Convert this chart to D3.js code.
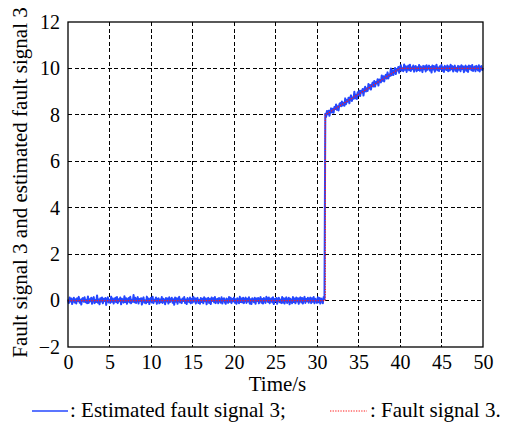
<!DOCTYPE html>
<html>
<head>
<meta charset="utf-8">
<script src="https://cdn.jsdelivr.net/npm/d3@7/dist/d3.min.js"></script>
</head>
<body style="margin:0">
<svg id="chart" width="506" height="424"></svg>
<script>
// Axis ranges and ticks
const xDomain = [0, 50];
const yDomain = [-2, 12];
const xTicks = [0, 5, 10, 15, 20, 25, 30, 35, 40, 45, 50];
const yTicks = [-2, 0, 2, 4, 6, 8, 10, 12];

// Fault signal 3 (piecewise: off, step at 31 s, ramp to 40 s, hold)
const faultTime = [0, 31, 31, 40, 50];
const faultValue = [0, 0, 8, 10, 10];

// Estimated fault signal 3, sampled every 0.1 s from 0 to 50 s
const sampleStep = 0.1;
const estimated = [
  .05,-.11,.13,-.04,.09,-.15,.02,.12,-.08,.06,
  -.13,.1,-.02,.16,-.09,.04,-.17,.08,.11,-.05,
  .14,-.07,.03,-.12,.18,-.1,.06,-.03,.12,-.14,
  .07,.15,-.11,.02,-.06,.22,-.09,.05,-.16,.1,
  -.04,.13,-.12,.08,-.02,.11,-.19,.06,.14,-.08,
  .03,-.1,.17,-.05,.09,-.13,.04,.12,-.07,.15,
  -.11,.06,-.03,.13,-.16,.08,.02,-.09,.19,-.06,
  .1,-.14,.05,.11,-.08,.16,-.12,.03,-.05,.24,
  -.07,.12,-.1,.04,.15,-.13,.07,-.02,.1,-.17,
  .06,.14,-.09,.01,-.12,.17,-.06,.09,-.15,.05,
  .12,-.08,.16,-.11,.04,-.03,.13,-.14,.07,.1,
  -.12,.05,-.07,.15,-.1,.08,.02,-.16,.11,-.04,
  .09,-.13,.14,-.06,.03,.12,-.09,.06,-.18,.13,
  -.05,.1,-.14,.07,.16,-.08,.04,-.11,.09,-.02,
  .15,-.1,.05,-.15,.11,.02,-.07,.13,-.12,.08,
  -.09,.16,-.04,.1,-.13,.06,.12,-.1,.03,-.14,
  .11,-.06,.08,-.12,.14,-.03,.09,-.16,.05,.12,
  -.1,.07,-.15,.13,-.02,.1,-.08,.15,-.11,.04,
  .08,-.12,.11,.02,-.09,.14,-.13,.06,.1,-.07,
  -.14,.09,.04,-.1,.15,-.05,.12,-.11,.07,-.03,
  .13,-.09,.06,-.14,.1,.03,-.12,.16,-.06,.09,
  -.08,.12,-.11,.05,.13,-.1,.08,-.04,.14,-.13,
  .06,-.15,.1,.03,-.07,.12,-.14,.09,-.02,.11,
  -.12,.04,.15,-.09,.07,-.13,.11,.02,-.1,.16,
  .09,-.06,.13,-.12,.05,.1,-.08,.14,-.15,.07,
  -.03,.11,-.14,.08,.12,-.07,.04,-.11,.15,-.09,
  .1,-.13,.06,.14,-.1,.03,.12,-.16,.08,-.05,
  -.11,.15,-.06,.09,-.12,.13,-.04,.1,-.14,.07,
  .14,-.08,.11,-.13,.05,.16,-.1,.07,-.03,.12,
  -.09,.06,.13,-.11,.1,-.05,.15,-.12,.08,.03,
  -.1,.14,-.07,.11,-.13,.09,.04,-.12,.15,.06,
  8.05,7.91,8.17,8.03,8.18,7.96,8.15,8.28,8.10,8.26,
  8.09,8.34,8.25,8.45,8.22,8.37,8.19,8.46,8.51,8.37,
  8.58,8.40,8.52,8.39,8.71,8.46,8.64,8.57,8.74,8.50,
  8.74,8.84,8.60,8.75,8.70,9.00,8.71,8.87,8.68,8.97,
  8.85,9.04,8.81,9.04,8.96,9.11,8.83,9.10,9.21,9.01,
  9.14,9.03,9.33,9.13,9.29,9.09,9.28,9.39,9.22,9.46,
  9.22,9.42,9.35,9.53,9.26,9.52,9.49,9.40,9.70,9.47,
  9.66,9.44,9.65,9.73,9.56,9.83,9.57,9.74,9.68,10.00,
  9.71,9.92,9.72,9.88,10.02,9.76,9.98,9.91,10.06,9.81,
  10.06,10.14,9.91,10.01,9.88,10.17,9.94,10.09,9.85,10.05,
  10.12,9.92,10.16,9.89,10.04,9.97,10.13,9.86,10.07,10.10,
  9.88,10.05,9.93,10.15,9.90,10.08,10.02,9.84,10.11,9.96,
  10.09,9.87,10.14,9.94,10.03,10.12,9.91,10.06,9.82,10.13,
  9.95,10.10,9.86,10.07,10.16,9.92,10.04,9.89,10.09,9.98,
  10.15,9.90,10.05,9.85,10.11,10.02,9.93,10.13,9.88,10.08,
  9.91,10.16,9.96,10.10,9.87,10.06,10.12,9.90,10.03,9.86,
  10.11,9.94,10.08,9.88,10.14,9.97,10.09,9.84,10.05,10.12,
  9.90,10.07,9.85,10.13,9.98,10.10,9.92,10.15,9.89,10.04,
  10.08,9.88,10.11,10.02,9.91,10.14,9.87,10.06,10.10,9.93,
  10.02
];

// Text
const xTitle = "Time/s";
const yTitle = "Fault signal 3 and estimated fault signal 3";
const legendEstimated = ": Estimated fault signal 3;";
const legendFault = ": Fault signal 3.";

const blue = "#2447ff";
const red = "#ff1a1a";
const serif = "Liberation Serif";

const svg = d3.select("#chart");
const plot = { left: 68, right: 483, top: 22, bottom: 347 };

const x = d3.scaleLinear().domain(xDomain).range([plot.left, plot.right]);
const y = d3.scaleLinear().domain(yDomain).range([plot.bottom, plot.top]);

// Dashed grid
const grid = svg.append("g");
grid.selectAll("line.vx")
  .data(xTicks.slice(1, -1))
  .join("line")
  .attr("x1", d => x(d)).attr("x2", d => x(d))
  .attr("y1", plot.top).attr("y2", plot.bottom)
  .attr("stroke", "#000").attr("stroke-width", 1)
  .attr("stroke-dasharray", "4,2.6")
  .attr("shape-rendering", "crispEdges");
grid.selectAll("line.hy")
  .data(yTicks.slice(1, -1))
  .join("line")
  .attr("x1", plot.left).attr("x2", plot.right)
  .attr("y1", d => y(d)).attr("y2", d => y(d))
  .attr("stroke", "#000").attr("stroke-width", 1)
  .attr("stroke-dasharray", "4,2.6")
  .attr("shape-rendering", "crispEdges");

// Series
const estPoints = estimated.map((v, i) => [i * sampleStep, v]);
const line = d3.line().x(d => x(d[0])).y(d => y(d[1]));

svg.append("path")
  .datum(estPoints)
  .attr("d", line)
  .attr("fill", "none")
  .attr("stroke", blue)
  .attr("stroke-width", 2)
  .attr("stroke-linejoin", "round");

const faultPoints = faultTime.map((t, i) => [t, faultValue[i]]);
svg.append("path")
  .datum(faultPoints)
  .attr("d", line)
  .attr("fill", "none")
  .attr("stroke", red)
  .attr("stroke-width", 1.2)
  .attr("stroke-dasharray", "1.3,1.3");

// Axes (labels only; the frame is drawn as a box)
const xAxis = d3.axisBottom(x).tickValues(xTicks).tickSize(0).tickPadding(8).tickFormat(d3.format("d"));
const yAxis = d3.axisLeft(y).tickValues(yTicks).tickSize(0).tickPadding(8)
  .tickFormat(d => d < 0 ? "\u2212" + Math.abs(d) : String(d));

const gx = svg.append("g").attr("transform", `translate(0,${plot.bottom})`).call(xAxis);
const gy = svg.append("g").attr("transform", `translate(${plot.left},0)`).call(yAxis);
[gx, gy].forEach(g => {
  g.attr("font-family", serif).attr("font-size", 20);
  g.select(".domain").remove();
});

svg.append("rect")
  .attr("x", plot.left).attr("y", plot.top)
  .attr("width", plot.right - plot.left).attr("height", plot.bottom - plot.top)
  .attr("fill", "none").attr("stroke", "#000").attr("stroke-width", 1.3);

// Axis titles
svg.append("text")
  .attr("x", (plot.left + plot.right) / 2 + 2).attr("y", 391)
  .attr("text-anchor", "middle").attr("font-family", serif).attr("font-size", 21)
  .text(xTitle);

svg.append("text")
  .attr("transform", `translate(27,182.5) rotate(-90)`)
  .attr("text-anchor", "middle").attr("font-family", serif).attr("font-size", 21)
  .text(yTitle);

// Legend
const ly = 411;
svg.append("line").attr("x1", 32).attr("x2", 68).attr("y1", ly).attr("y2", ly)
  .attr("stroke", blue).attr("stroke-width", 1.5);
svg.append("text").attr("x", 70).attr("y", 417).attr("font-family", serif).attr("font-size", 21)
  .text(legendEstimated);
svg.append("line").attr("x1", 330).attr("x2", 367).attr("y1", ly).attr("y2", ly)
  .attr("stroke", red).attr("stroke-width", 1.2).attr("stroke-dasharray", "1.3,1.3");
svg.append("text").attr("x", 370).attr("y", 417).attr("font-family", serif).attr("font-size", 21)
  .text(legendFault);
</script>
</body>
</html>
